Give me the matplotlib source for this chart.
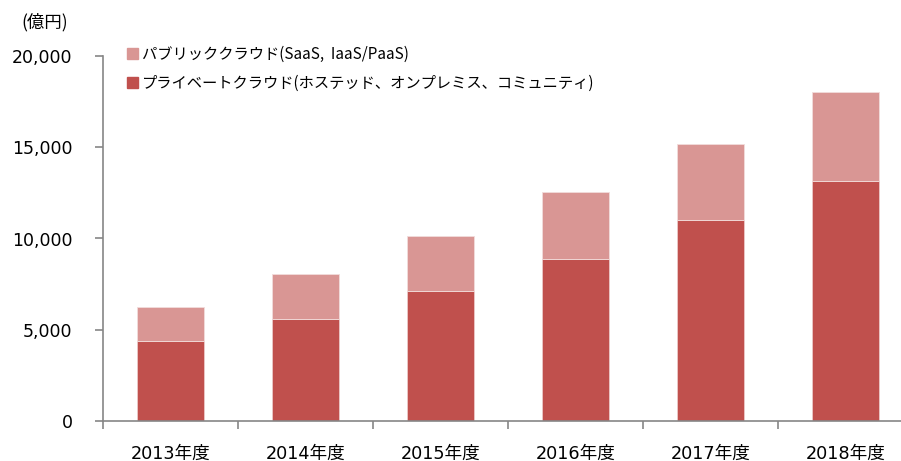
import numpy as np
import matplotlib.pyplot as plt
from matplotlib.patches import Patch

# --------------------------------------------------
# Data (億円)
# --------------------------------------------------
years = ["2013年度", "2014年度", "2015年度", "2016年度", "2017年度", "2018年度"]
private_cloud = [4400, 5600, 7100, 8900, 11000, 13150]
public_cloud = [1850, 2450, 3050, 3650, 4200, 4900]

label_public = "パブリッククラウド(SaaS,  IaaS/PaaS)"
label_private = "プライベートクラウド(ホステッド、オンプレミス、コミュニティ)"

c_private = "#C0504D"
c_public = "#D99694"
grey = "#868686"

plt.rcParams["font.family"] = ["DejaVu Sans", "Noto Sans CJK JP"]

W, H = 901, 461
fig = plt.figure(figsize=(W / 100, H / 100), dpi=100)
ax = fig.add_axes([103 / W, 1 - 421 / H, 810 / W, 365 / H])

x = np.arange(len(years))
ax.bar(x, private_cloud, width=0.5, color=c_private,
       edgecolor="#EBC9C8", linewidth=0.6, zorder=2)
ax.bar(x, public_cloud, width=0.5, bottom=private_cloud, color=c_public,
       edgecolor="#F2DCDB", linewidth=0.6, zorder=2)

ax.set_xlim(-0.5, len(years) - 0.5)
ax.set_ylim(0, 20000)
ax.set_yticks(np.arange(0, 20001, 5000))
ax.set_yticklabels([f"{v:,}" for v in range(0, 20001, 5000)], fontsize=12.5)

ax.set_xticks(np.arange(len(years) + 1) - 0.5)
ax.set_xticklabels([])
ax.set_xticks(x, minor=True)
ax.set_xticklabels(years, minor=True, fontsize=12.7)
ax.tick_params(axis="x", which="minor", length=0, pad=17)
ax.tick_params(axis="x", which="major", length=6, color=grey, width=1.2)
ax.tick_params(axis="y", length=6, color=grey, width=1.2, pad=16)

for s in ["top", "right"]:
    ax.spines[s].set_visible(False)
for s in ["left", "bottom"]:
    ax.spines[s].set_color(grey)
    ax.spines[s].set_linewidth(1.2)

fig.text(21 / W, 1 - 22 / H, "(億円)", fontsize=12.5, va="center", ha="left",
         family=["Noto Sans CJK JP", "DejaVu Sans"])

handles = [Patch(color=c_public), Patch(color=c_private)]
fig.legend(handles, [label_public, label_private], loc="upper left",
           bbox_to_anchor=(127 / W, 1 - 46 / H), frameon=False,
           prop={"family": ["Noto Sans CJK JP", "DejaVu Sans"], "size": 11},
           handlelength=0.75, handleheight=0.75, handletextpad=0.2,
           labelspacing=0.8, borderaxespad=0, borderpad=0)

fig.savefig("out.png", dpi=100)
